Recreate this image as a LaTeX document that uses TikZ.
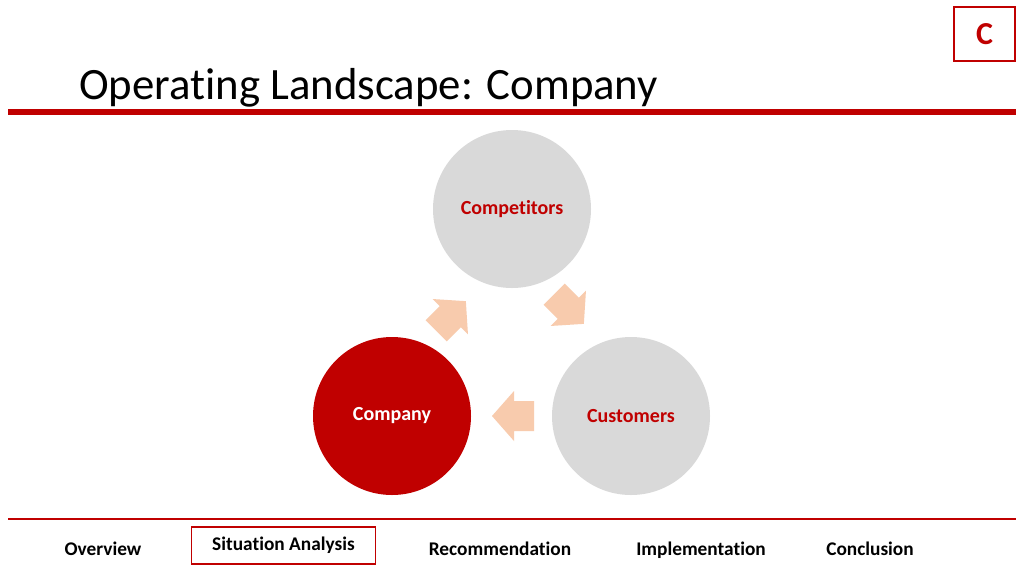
\documentclass[tikz,border=0pt]{standalone}
\usepackage{fontspec}
\setmainfont[Ligatures={NoCommon}]{Carlito}
\definecolor{dred}{HTML}{C00000}
\definecolor{lgray}{HTML}{D9D9D9}
\definecolor{peach}{HTML}{F8CBAD}
\begin{document}
\begin{tikzpicture}[x=0.75pt,y=-0.75pt,
  circ/.style={circle,minimum size=118.5pt,inner sep=0pt,fill=lgray,text=dred,font=\bfseries\fontsize{15}{17}\selectfont},
  nav/.style={font=\bfseries\fontsize{14.5}{16}\selectfont,anchor=center},
  arrshape/.pic={\fill[peach] (-21,-15) -- (-1,-15) -- (-1,-25) -- (21,0) -- (-1,25) -- (-1,15) -- (-21,15) -- cycle;}]
\useasboundingbox (0,0) rectangle (1024,576);
\fill[white] (0,0) rectangle (1024,576);
\node[draw=dred,line width=1.5pt,minimum width=46pt,minimum height=41pt,text=dred,font=\bfseries\fontsize{24}{26}\selectfont] (cbox) at (984.5,34) {C};
\node[anchor=base west,font=\fontsize{33.6}{38}\selectfont,inner sep=0pt] (title) at (79,99) {Operating Landscape: Company};
\draw[dred,line width=3.8pt] (8,112) coordinate (l1) -- (1016,112) coordinate (l2);
\node[circ] (comp) at (512,209) {Competitors};
\node[circ,fill=dred,text=white] (co) at (392,416) {Company};
\node[circ] (cust) at (631,416) {Customers};
\pic[rotate=180] at (513,416) {arrshape};
\pic[rotate=-45] at (569,309) {arrshape};
\pic[rotate=45] at (451,316) {arrshape};
\draw[dred,line width=2.2pt] (8,519) coordinate (l3) -- (1016,519) coordinate (l4);
\node[nav] (ov) at (103,549) {Overview};
\node[nav,draw=dred,line width=1.2pt,minimum width=138pt,minimum height=28pt] (sa) at (283.5,545.5) {Situation Analysis};
\node[nav] (re) at (500,549) {Recommendation};
\node[nav] (im) at (701,550) {Implementation};
\node[nav] (cn) at (870,549) {Conclusion};
\end{tikzpicture}
\end{document}
